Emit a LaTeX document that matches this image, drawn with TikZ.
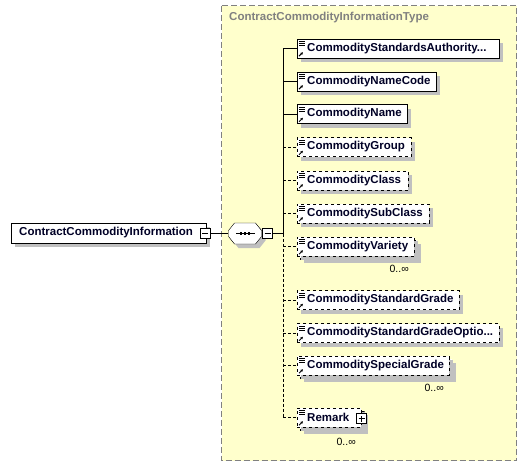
\documentclass[tikz,border=0pt]{standalone}
\usepackage{fontspec}
\setmainfont{Liberation Sans}
\usetikzlibrary{shadows,arrows.meta}
\definecolor{shgray}{RGB}{192,192,192}
\definecolor{pale}{RGB}{255,255,204}
\definecolor{ttl}{RGB}{128,128,128}
\tikzset{
  elem/.style={draw=black, fill=white, rectangle, inner sep=0pt, minimum height=19pt, anchor=west,
    general shadow={fill=shgray, shadow xshift=4pt, shadow yshift=-4pt}},
  optelem/.style={elem, dashed},
  backbox/.style={draw=black, dashed, fill=white,
    general shadow={fill=shgray, shadow xshift=4pt, shadow yshift=-4pt}},
  lbl/.style={anchor=west, inner sep=0pt, font=\fontsize{11.5}{13}\selectfont\bfseries, text=black!85!blue},
  card/.style={anchor=east, inner sep=0pt, font=\fontsize{10.5}{12}\selectfont},
  pmbox/.style={draw=black, fill=white, rectangle, inner sep=0pt, minimum width=10pt, minimum height=10pt},
  conn/.style={draw=black, line width=0.8pt},
  optconn/.style={conn, dashed, dash pattern=on 3pt off 2pt},
}
\newcommand{\elicon}[1]{%
  \draw[line width=0.6pt] ([xshift=2pt,yshift=-2.5pt]#1.north west) -- ++(6pt,0)
    ([xshift=2pt,yshift=-4.5pt]#1.north west) -- ++(6pt,0)
    ([xshift=2pt,yshift=-6.5pt]#1.north west) -- ++(6pt,0);
  \draw[line width=1pt,-{Latex[length=2.5pt,width=3pt]}] ([xshift=2pt,yshift=2pt]#1.south west) -- ++(4pt,4pt);}
\newcommand{\minusin}[1]{\draw (#1.center) ++(-3pt,0) -- ++(6pt,0);}
\newcommand{\plusin}[1]{\draw (#1.center) ++(-3pt,0) -- ++(6pt,0) (#1.center) ++(0,-3pt) -- ++(0,6pt);}
\newcommand{\octpath}[2]{% center x, center y
  (#1-16.5,#2-3) -- (#1-10.5,#2-10.5) -- (#1+10.5,#2-10.5) -- (#1+16.5,#2-3) -- (#1+16.5,#2+3) -- (#1+10.5,#2+10.5) -- (#1-10.5,#2+10.5) -- (#1-16.5,#2+3) -- cycle}
\begin{document}
\begin{tikzpicture}[x=1pt,y=-1pt]
\useasboundingbox (0,0) rectangle (527,466);
% type area
\draw[ttl, fill=pale, dashed, dash pattern=on 6pt off 3pt] (221.5,5.5) rectangle (516.5,460.5);
\node[anchor=west, inner sep=0pt, text=ttl, font=\fontsize{11.5}{13}\selectfont\bfseries] (title) at (229,18) {ContractCommodityInformationType};
% root element
\node[elem, minimum width=195pt, minimum height=20pt] (root) at (10.5,233) {};
\node[lbl] (rootlbl) at (19,233) {ContractCommodityInformation};
\node[pmbox] (rootm) at (205,233.5) {};
\minusin{rootm}
% sequence compositor
\fill[shgray] \octpath{249}{237.5};
\filldraw[fill=white, draw=black] \octpath{245}{233.5};
\node[minimum width=33pt, minimum height=21pt, inner sep=0pt] (seq) at (245,233.5) {};
\draw[line width=0.8pt] (236,233.5) -- (255,233.5);
\foreach \dx in {-4,0,4} \fill (245+\dx-1.3,232.2) rectangle ++(2.6,2.6);
\node[pmbox] (seqm) at (267.5,233.5) {};
\minusin{seqm}
\coordinate (j) at (283,233.5);
\draw[conn] (rootm.east) -- (seq.west);
\draw[conn] (seqm.east) -- (j);
% children
\node[elem, minimum width=202pt] (csa) at (297,48.5) {};
\node[lbl] (csalbl) at (307,48.5) {CommodityStandardsAuthority...};
\node[elem, minimum width=139pt] (cnc) at (297,81.5) {};
\node[lbl] (cnclbl) at (307,81.5) {CommodityNameCode};
\node[elem, minimum width=110pt] (cn) at (297,114) {};
\node[lbl] (cnlbl) at (307,114) {CommodityName};
\node[optelem, minimum width=114pt] (cg) at (297,147) {};
\node[lbl] (cglbl) at (307,147) {CommodityGroup};
\node[optelem, minimum width=111pt] (cc) at (297,180.5) {};
\node[lbl] (cclbl) at (307,180.5) {CommodityClass};
\node[optelem, minimum width=132pt] (csc) at (297,213.5) {};
\node[lbl] (csclbl) at (307,213.5) {CommoditySubClass};
% variety (multiple)
\draw[backbox] (300,240) rectangle (417,259);
\node[optelem, minimum width=117pt, general shadow={}] (cv) at (297,246.5) {};
\node[lbl] (cvlbl) at (307,246.5) {CommodityVariety};
\node[card] (cvcard) at (409,269) {0..∞};
\node[optelem, minimum width=162pt] (csg) at (297,300) {};
\node[lbl] (csglbl) at (307,300) {CommodityStandardGrade};
\node[optelem, minimum width=202pt] (csgo) at (297,333) {};
\node[lbl] (csgolbl) at (307,333) {CommodityStandardGradeOptio...};
% special grade (multiple)
\draw[backbox] (300,359) rectangle (452,378);
\node[optelem, minimum width=152pt, general shadow={}] (csp) at (297,365.5) {};
\node[lbl] (csplbl) at (307,365.5) {CommoditySpecialGrade};
\node[card] (cspcard) at (444,388) {0..∞};
% remark (multiple)
\draw[backbox] (300,411) rectangle (364,430);
\node[optelem, minimum width=64pt, general shadow={}] (rm) at (297,417.5) {};
\node[lbl] (rmlbl) at (307,417.5) {Remark};
\node[pmbox] (rmp) at (361.5,418.5) {};
\plusin{rmp}
\node[card] (rmcard) at (356,442) {0..∞};
% icons
\foreach \n in {csa,cnc,cn,cg,cc,csc,cv,csg,csgo,csp,rm} {\elicon{\n}}
% connectors
\draw[conn] (j |- csa.west) -- (j);
\draw[optconn] (j) -- (j |- rm.west);
\foreach \n in {csa,cnc,cn} \draw[conn] (j |- \n.west) -- (\n.west);
\foreach \n in {cg,cc,csc,cv,csg,csgo,csp,rm} \draw[optconn] (j |- \n.west) -- (\n.west);
\end{tikzpicture}
\end{document}
